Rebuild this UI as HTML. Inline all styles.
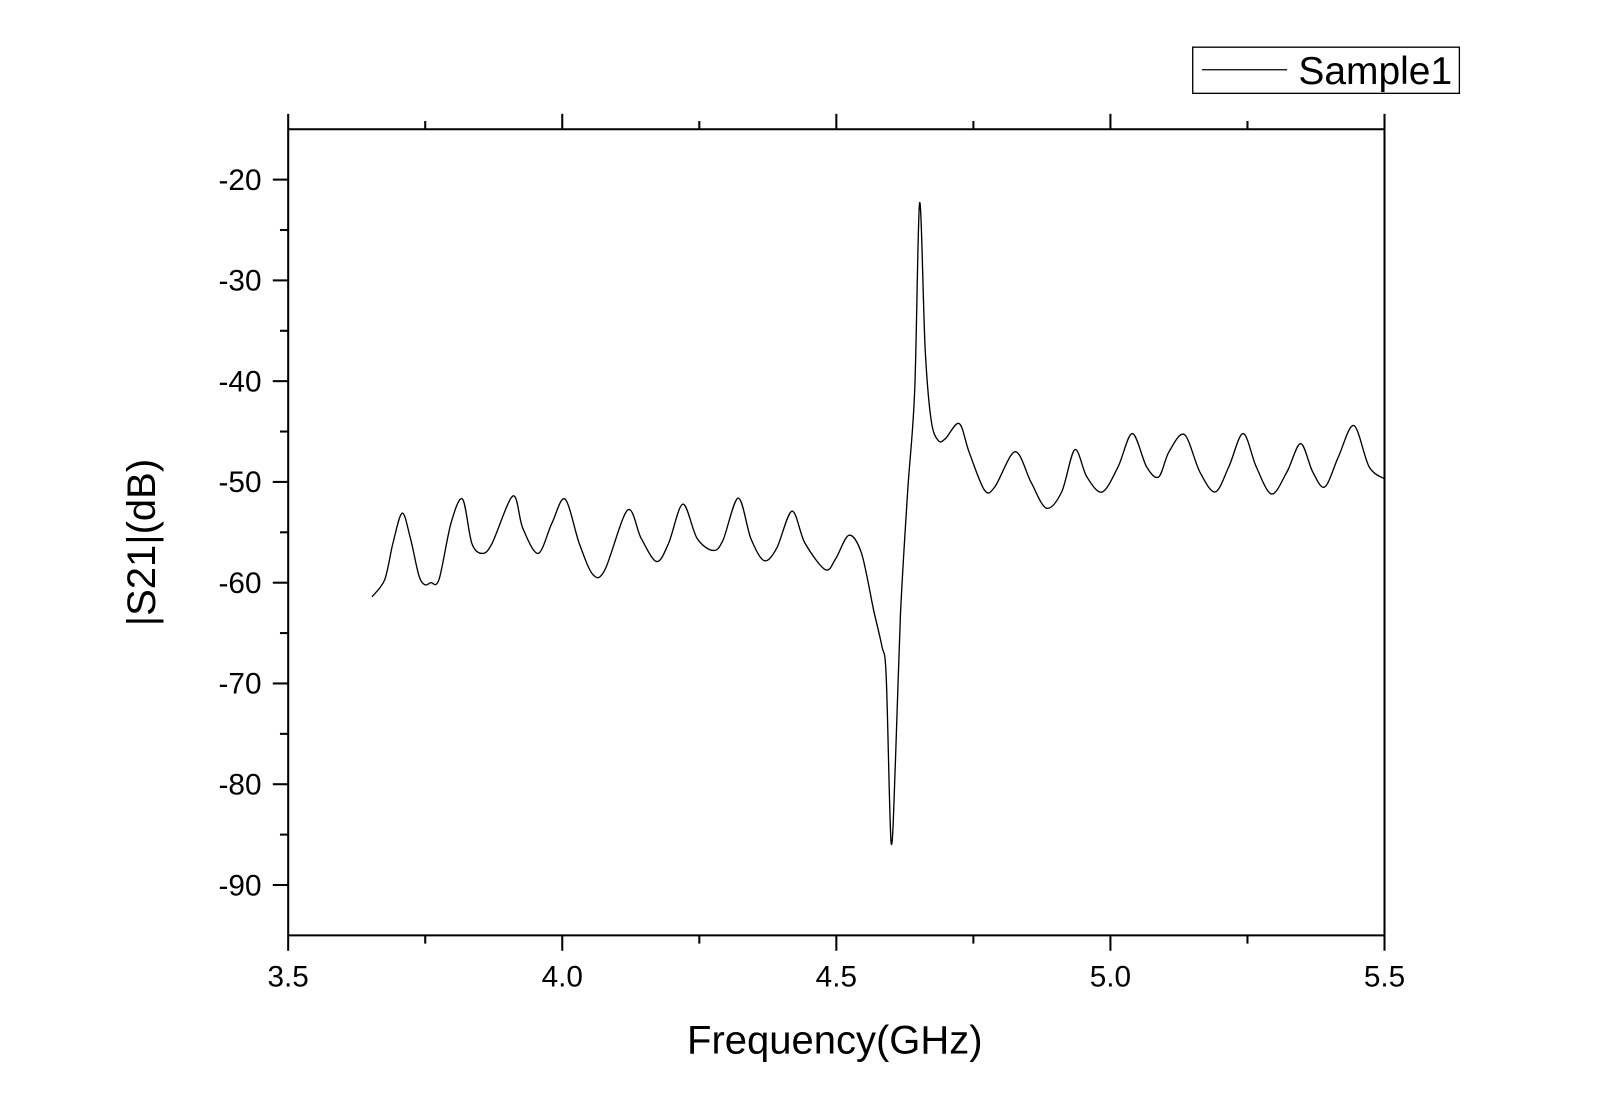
<!DOCTYPE html>
<html><head><meta charset="utf-8"><style>
html,body{margin:0;padding:0;background:#fff;}
svg{display:block;}
text{font-family:"Liberation Sans",Arial,sans-serif;fill:#000;}
</style></head><body>
<svg id="chart" width="1605" height="1120" viewBox="0 0 1565 1092" preserveAspectRatio="none" xmlns="http://www.w3.org/2000/svg">
<g id="axes"></g>
<path id="series" fill="none" stroke="#000" stroke-width="1.3"/>
<g>
<rect x="1163" y="46" width="260" height="45" fill="#fff" stroke="#000" stroke-width="1.3"/>
<line x1="1172" y1="68" x2="1255" y2="68" stroke="#000" stroke-width="1.3"/>
<text x="1266" y="82" font-size="38">Sample1</text>
</g>
<text x="814" y="1027" font-size="39" text-anchor="middle">Frequency(GHz)</text>
<text transform="translate(151,529) rotate(-90)" font-size="39" text-anchor="middle">|S21|(dB)</text>
</svg>
<script>
const freqs=[3.653,3.676,3.691,3.708,3.723,3.738,3.749,3.760,3.775,3.797,3.818,3.835,3.854,3.872,3.910,3.928,3.956,3.981,4.005,4.031,4.056,4.078,4.119,4.144,4.172,4.194,4.220,4.246,4.275,4.293,4.321,4.344,4.368,4.391,4.419,4.443,4.480,4.499,4.523,4.546,4.568,4.583,4.591,4.600,4.608,4.617,4.630,4.643,4.652,4.662,4.673,4.686,4.699,4.724,4.742,4.770,4.789,4.826,4.855,4.883,4.911,4.935,4.957,4.985,5.014,5.040,5.066,5.088,5.107,5.135,5.163,5.191,5.216,5.242,5.266,5.294,5.322,5.347,5.369,5.391,5.416,5.444,5.472,5.500];
const s21=[-61.4,-59.7,-56.1,-53.1,-55.6,-59.2,-60.2,-60.0,-59.7,-54.1,-51.7,-56.1,-57.1,-56.1,-51.4,-54.6,-57.1,-54.1,-51.7,-56.1,-59.2,-58.7,-52.8,-55.6,-57.9,-56.1,-52.2,-55.6,-56.8,-55.8,-51.6,-55.6,-57.8,-56.6,-52.9,-56.1,-58.7,-57.6,-55.3,-57.1,-62.7,-66.3,-69.3,-85.8,-77.5,-63.2,-51.0,-40.9,-22.3,-36.8,-43.9,-45.9,-45.7,-44.2,-47.0,-50.8,-50.5,-47.0,-50.0,-52.6,-51.0,-46.8,-49.5,-51.0,-48.5,-45.2,-48.5,-49.5,-47.0,-45.3,-49.0,-51.0,-48.5,-45.2,-48.5,-51.2,-49.0,-46.2,-49.0,-50.5,-47.5,-44.4,-48.5,-49.7];
const xTicks=[3.5,4.0,4.5,5.0,5.5];
const xTickLabels=["3.5","4.0","4.5","5.0","5.5"];
const yTicks=[-20,-30,-40,-50,-60,-70,-80,-90];
const yTickLabels=["-20","-30","-40","-50","-60","-70","-80","-90"];

const X0=281,X1=1350,Y0=126,Y1=912,xmin=3.5,xmax=5.5,ymin=-95,ymax=-15;
const sx=v=>X0+(v-xmin)/(xmax-xmin)*(X1-X0);
const sy=v=>Y1-(v-ymin)/(ymax-ymin)*(Y1-Y0);
const NS="http://www.w3.org/2000/svg";
const ax=document.getElementById('axes');
function ln(x1,y1,x2,y2,w){const l=document.createElementNS(NS,'line');l.setAttribute('x1',x1);l.setAttribute('y1',y1);l.setAttribute('x2',x2);l.setAttribute('y2',y2);l.setAttribute('stroke','#000');l.setAttribute('stroke-width',w||2);ax.appendChild(l);return l;}
let f=ln(X0,Y0,X1,Y0);
f=ln(X0,Y1,X1,Y1);
f=ln(X0,Y0,X0,Y1);
f=ln(X1,Y0,X1,Y1);
for(let v=xmin;v<=xmax+1e-9;v+=0.25){const maj=Math.abs(v*2-Math.round(v*2))<1e-6;const L=maj?15:8;const x=sx(v);
 let t=ln(x,Y1,x,Y1+L);
 t=ln(x,Y0,x,Y0-L);}
for(let v=-90;v<=-20;v+=5){const maj=v%10===0;const y=sy(v);let t=ln(X0-(maj?15:8),y,X0,y);}
xTicks.forEach((v,i)=>{const t=document.createElementNS(NS,'text');t.setAttribute('x',sx(v));t.setAttribute('y',Y1+50);t.setAttribute('font-size','29');t.setAttribute('text-anchor','middle');t.textContent=xTickLabels[i];


ax.appendChild(t);});
yTicks.forEach((v,i)=>{const t=document.createElementNS(NS,'text');t.setAttribute('x',X0-26);t.setAttribute('y',sy(v)+10);t.setAttribute('font-size','29');t.setAttribute('text-anchor','end');t.textContent=yTickLabels[i];


ax.appendChild(t);});
const pts=freqs.map((v,i)=>[sx(v),sy(s21[i])]);
let d='M'+pts[0][0].toFixed(1)+' '+pts[0][1].toFixed(1);
const k=0.16;
for(let i=0;i<pts.length-1;i++){const p0=pts[Math.max(0,i-1)],p1=pts[i],p2=pts[i+1],p3=pts[Math.min(pts.length-1,i+2)];
 const c1=[p1[0]+(p2[0]-p0[0])*k,p1[1]+(p2[1]-p0[1])*k],c2=[p2[0]-(p3[0]-p1[0])*k,p2[1]-(p3[1]-p1[1])*k];
 d+=' C'+c1[0].toFixed(1)+' '+c1[1].toFixed(1)+' '+c2[0].toFixed(1)+' '+c2[1].toFixed(1)+' '+p2[0].toFixed(1)+' '+p2[1].toFixed(1);}
document.getElementById('series').setAttribute('d',d);
</script>
</body></html>
